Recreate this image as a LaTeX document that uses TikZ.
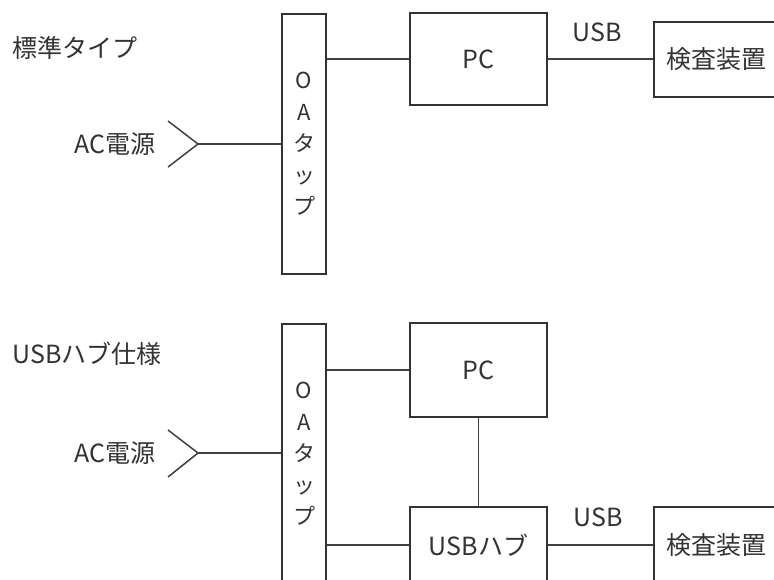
\documentclass[tikz,border=0pt]{standalone}
\usepackage{fontspec}
\setmainfont{Noto Sans CJK JP}
\begin{document}
\begin{tikzpicture}[x=1pt,y=-1pt,
  every node/.style={text=black!80},
  box/.style={draw=black!80,line width=1.5pt,inner sep=0pt},
  wire/.style={draw=black!75,line width=1.5pt},
  lbl/.style={font=\fontsize{25}{28}\selectfont},
  tapbox/.style={box,minimum width=44pt,minimum height=260pt,align=center,font=\fontsize{22}{31.5}\selectfont}]
\clip (0,0) rectangle (774,579);
\fill[white] (0,0) rectangle (774,579);
% top: standard type
\node[lbl,anchor=west] (t1) at (9,48) {標準タイプ};
\node[tapbox] (oa1) at (304,144) {O\\A\\タ\\ッ\\プ};
\node[box,minimum width=137pt,minimum height=92pt,lbl] (pc1) at (478.5,59) {PC};
\node[box,minimum width=160pt,minimum height=75pt,anchor=west,lbl] (dev1) at (653,59.5) {\hspace*{-34pt}検査装置};
\node[lbl,anchor=east] (ac1) at (159,144) {AC電源};
\coordinate (tip1) at (198,144);
\coordinate (u1) at (168,121);
\coordinate (l1) at (168,167);
\draw[wire] (u1) -- (tip1) -- (l1);
\draw[wire] (tip1) -- (tip1 -| oa1.west);
\draw[wire] (pc1.west) -- (pc1.west -| oa1.east);
\draw[wire] (pc1.east) -- (pc1.east -| dev1.west);
\node[lbl] (usb1) at (597,32) {USB};
% bottom: USB hub
\node[lbl,anchor=west] (t2) at (9,354) {USBハブ仕様};
\node[tapbox] (oa2) at (304,454) {O\\A\\タ\\ッ\\プ};
\node[box,minimum width=137pt,minimum height=94pt,lbl] (pc2) at (478.5,370) {PC};
\node[box,minimum width=137pt,minimum height=76pt,lbl] (hub) at (478.5,545) {USBハブ};
\node[box,minimum width=160pt,minimum height=76pt,anchor=west,lbl] (dev2) at (653,545) {\hspace*{-34pt}検査装置};
\node[lbl,anchor=east] (ac2) at (159,453) {AC電源};
\coordinate (tip2) at (198,453);
\coordinate (u2) at (168,430);
\coordinate (l2) at (168,477);
\draw[wire] (u2) -- (tip2) -- (l2);
\draw[wire] (tip2) -- (tip2 -| oa2.west);
\draw[wire] (pc2.west) -- (pc2.west -| oa2.east);
\draw[wire] (pc2.south) -- (hub.north);
\draw[wire] (hub.west) -- (hub.west -| oa2.east);
\draw[wire] (hub.east) -- (hub.east -| dev2.west);
\node[lbl] (usb2) at (598,517) {USB};
\end{tikzpicture}
\end{document}
